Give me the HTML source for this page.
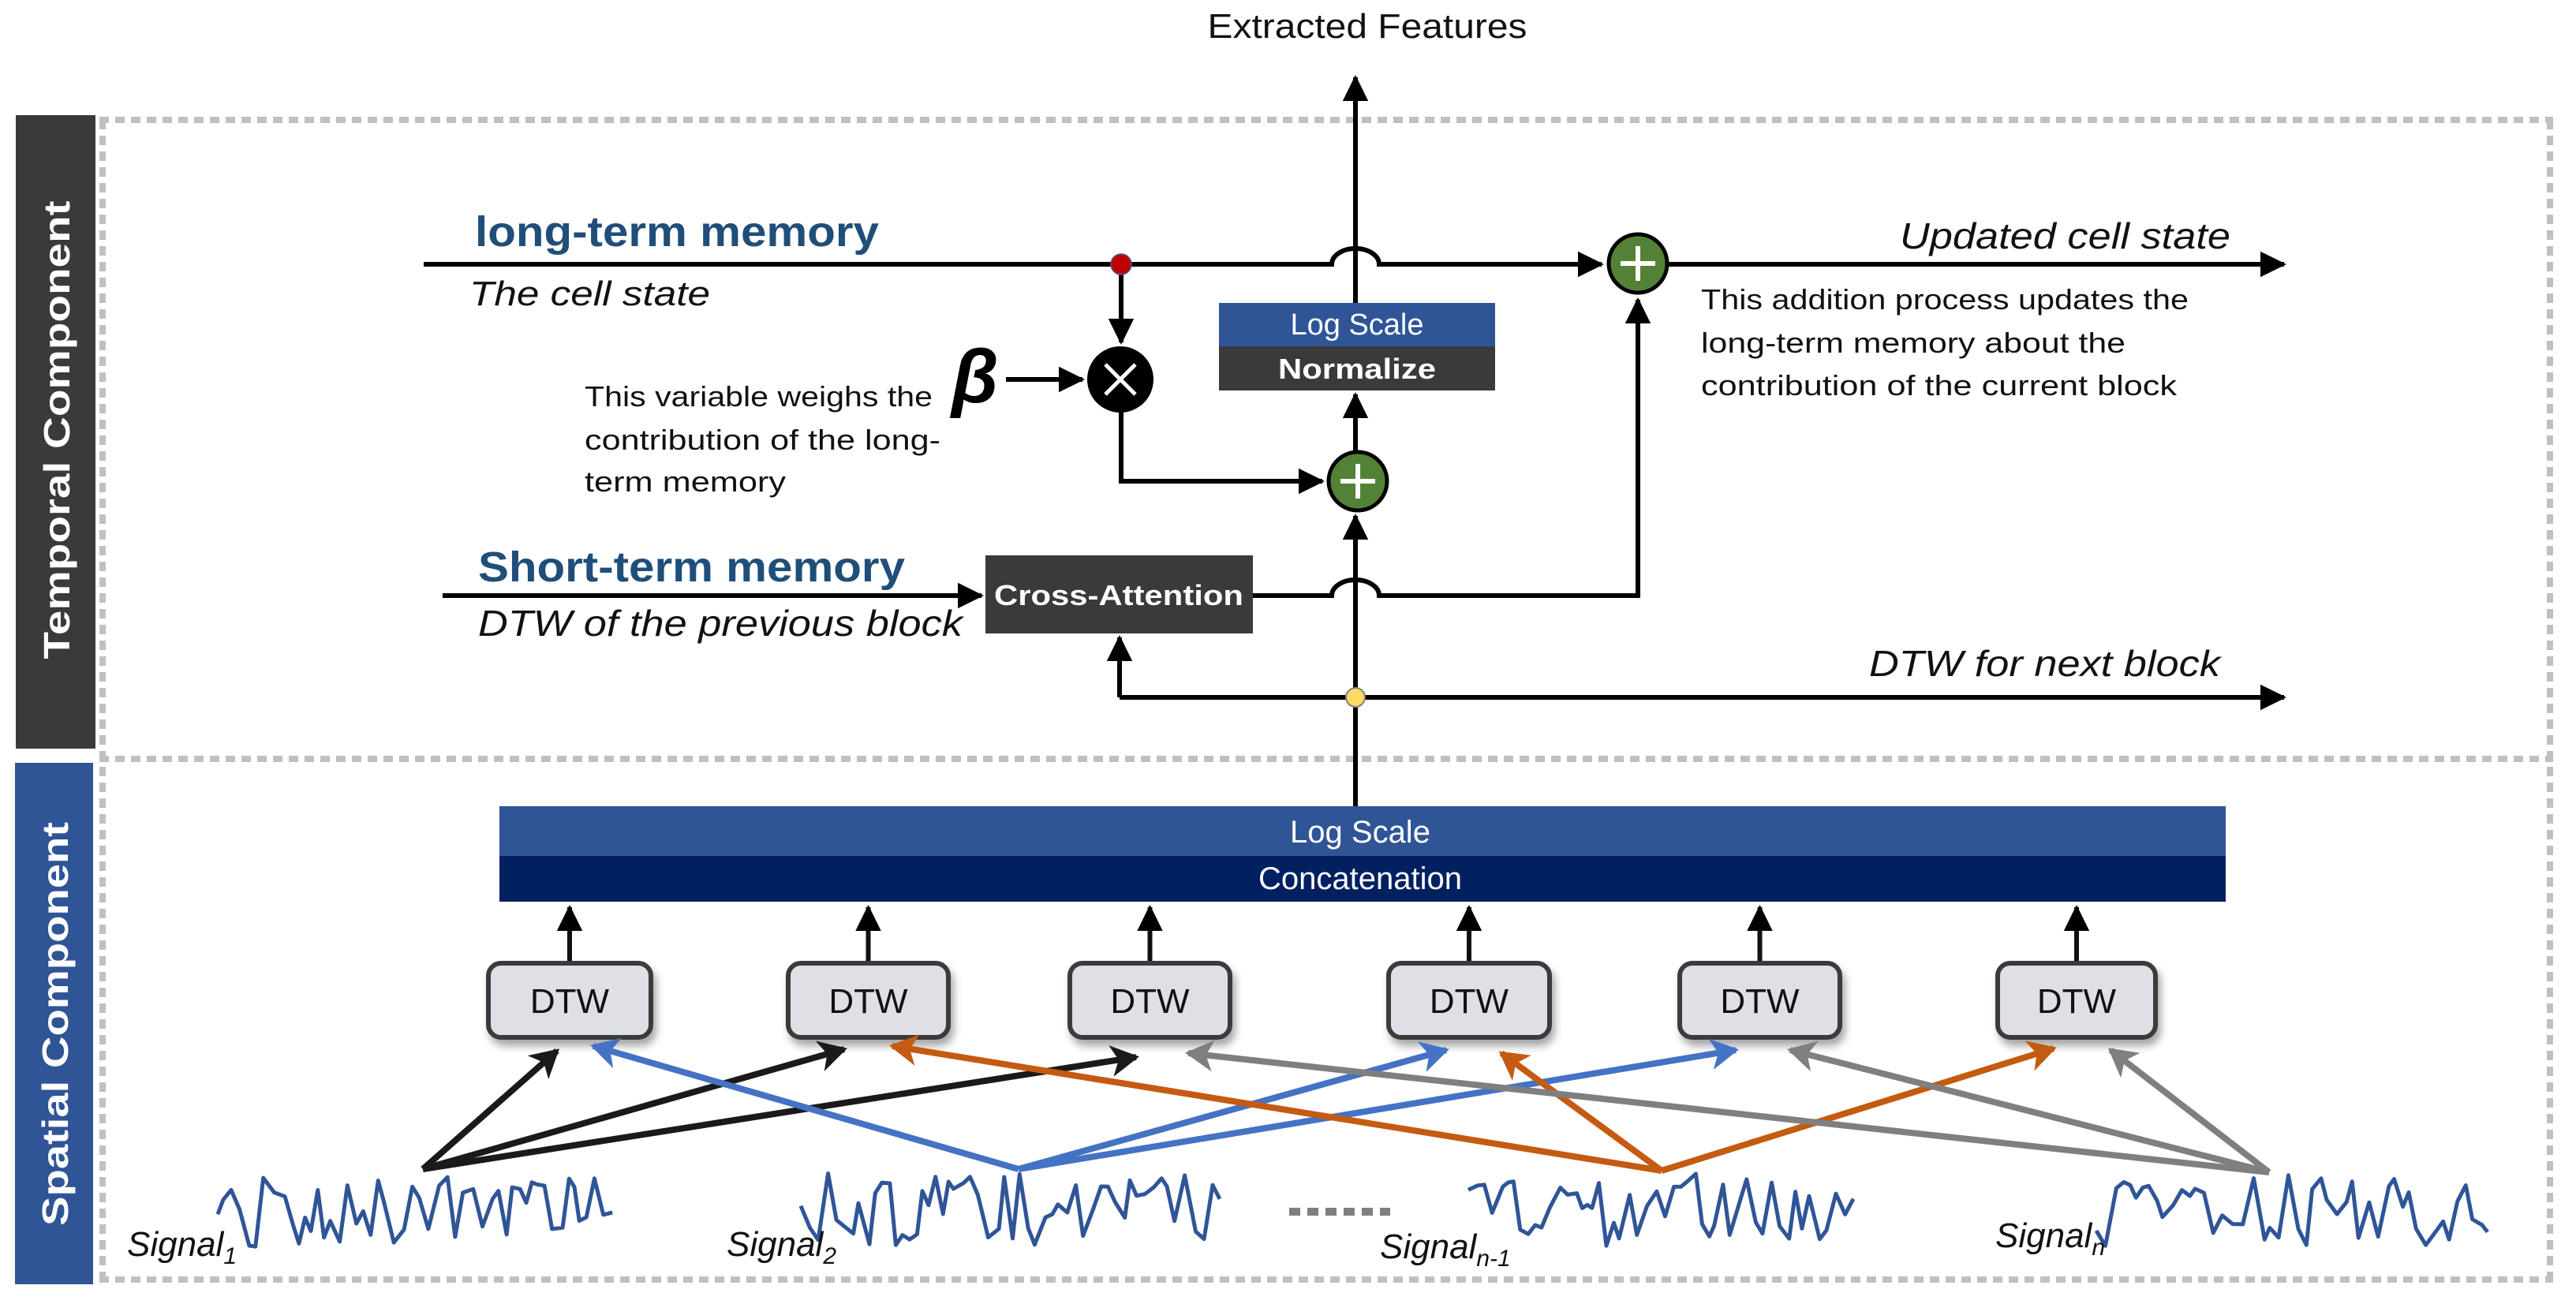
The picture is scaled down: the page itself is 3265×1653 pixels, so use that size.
<!DOCTYPE html>
<html><head><meta charset="utf-8"><style>
html,body{margin:0;padding:0;background:#fff}
svg{display:block}
text{font-family:"Liberation Sans",sans-serif}
</style></head><body>
<svg id="s" width="3265" height="1653" viewBox="0 0 3265 1653" xmlns="http://www.w3.org/2000/svg">
<defs>
<marker id="ak" markerWidth="6" markerHeight="6" refX="5" refY="3" orient="auto" markerUnits="strokeWidth"><path d="M0,0.3 L5.5,3 L0,5.7 Z" fill="#000"/></marker>
<marker id="ab" markerWidth="5" markerHeight="5" refX="4" refY="2.5" orient="auto" markerUnits="strokeWidth"><path d="M0,0 L4.5,2.5 L0,5 L1.2,2.5 Z" fill="#1a1a1a"/></marker>
<marker id="abl" markerWidth="5" markerHeight="5" refX="4" refY="2.5" orient="auto" markerUnits="strokeWidth"><path d="M0,0 L4.5,2.5 L0,5 L1.2,2.5 Z" fill="#4472c4"/></marker>
<marker id="aor" markerWidth="5" markerHeight="5" refX="4" refY="2.5" orient="auto" markerUnits="strokeWidth"><path d="M0,0 L4.5,2.5 L0,5 L1.2,2.5 Z" fill="#c55a11"/></marker>
<marker id="agr" markerWidth="5" markerHeight="5" refX="4" refY="2.5" orient="auto" markerUnits="strokeWidth"><path d="M0,0 L4.5,2.5 L0,5 L1.2,2.5 Z" fill="#7f7f7f"/></marker>
<filter id="sh" x="-20%" y="-20%" width="140%" height="150%"><feDropShadow dx="4" dy="8" stdDeviation="5" flood-color="#000" flood-opacity="0.35"/></filter>
</defs>

<g stroke="#c0c0c0" stroke-width="8" stroke-dasharray="12 8" fill="none">
<line x1="126" y1="152" x2="3236" y2="152"/>
<line x1="130" y1="152" x2="130" y2="1625"/>
<line x1="3232" y1="152" x2="3232" y2="1625"/>
<line x1="126" y1="962" x2="3236" y2="962"/>
<line x1="126" y1="1622" x2="3236" y2="1622"/>
</g>

<rect x="20" y="146" width="101" height="803" fill="#3a3a3a"/>
<rect x="19" y="967" width="99" height="661" fill="#2f5597"/>
<text transform="translate(88,545) rotate(-90)" text-anchor="middle" font-family="DejaVu Sans" font-weight="bold" font-size="46" fill="#fff" textLength="581" lengthAdjust="spacingAndGlyphs">Temporal Component</text>
<text transform="translate(86,1298) rotate(-90)" text-anchor="middle" font-family="DejaVu Sans" font-weight="bold" font-size="46" fill="#fff" textLength="512" lengthAdjust="spacingAndGlyphs">Spatial Component</text>

<text x="1733" y="48" text-anchor="middle" font-size="44" fill="#111" textLength="405" lengthAdjust="spacingAndGlyphs">Extracted Features</text>

<g stroke="#000" stroke-width="6" fill="none">
<path d="M537,335 L1688,335 A30,20 0 0 1 1748,335 L2030,335" marker-end="url(#ak)"/>
<path d="M2114,335 L2895,335" marker-end="url(#ak)"/>
<path d="M1421,335 L1421,434" marker-end="url(#ak)"/>
<path d="M1275,481 L1372,481" marker-end="url(#ak)"/>
<path d="M1421,523 L1421,610 L1676,610" marker-end="url(#ak)"/>
<path d="M1718,572 L1718,500" marker-end="url(#ak)"/>
<path d="M1718,384 L1718,98" marker-end="url(#ak)"/>
<path d="M561,755 L1244,755" marker-end="url(#ak)"/>
<path d="M1588,755 L1688,755 A30,20 0 0 1 1748,755 L2076,755 L2076,380" marker-end="url(#ak)"/>
<path d="M1718,1025 L1718,654" marker-end="url(#ak)"/>
<path d="M1419,884 L1419,808" marker-end="url(#ak)"/>
<path d="M1419,884 L2895,884" marker-end="url(#ak)"/>
</g>
<circle cx="1421" cy="335" r="13" fill="#c00000" stroke="#4a5a8a" stroke-width="1.5"/>
<circle cx="1718" cy="884" r="12" fill="#ffd966" stroke="#7f7f7f" stroke-width="2"/>
<circle cx="1420" cy="481" r="42" fill="#000"/>
<g stroke="#fff" stroke-width="5"><line x1="1401" y1="462" x2="1439" y2="500"/><line x1="1439" y1="462" x2="1401" y2="500"/></g>
<g>
<circle cx="1721" cy="610" r="37" fill="#538135" stroke="#000" stroke-width="5"/>
<g stroke="#fff" stroke-width="6"><line x1="1699" y1="610" x2="1743" y2="610"/><line x1="1721" y1="588" x2="1721" y2="632"/></g>
<circle cx="2076" cy="334" r="37" fill="#538135" stroke="#000" stroke-width="5"/>
<g stroke="#fff" stroke-width="6"><line x1="2054" y1="334" x2="2098" y2="334"/><line x1="2076" y1="312" x2="2076" y2="356"/></g>
</g>
<rect x="1545" y="384" width="350" height="55" fill="#2f5597"/>
<rect x="1545" y="439" width="350" height="56" fill="#3a3a3a"/>
<text x="1720" y="424" text-anchor="middle" font-size="38" fill="#fff">Log Scale</text>
<text x="1720" y="480" text-anchor="middle" font-size="36" font-weight="bold" fill="#fff" textLength="200" lengthAdjust="spacingAndGlyphs">Normalize</text>
<rect x="1249" y="704" width="339" height="99" fill="#3a3a3a"/>
<text x="1418" y="767" text-anchor="middle" font-size="36" font-weight="bold" fill="#fff" textLength="316" lengthAdjust="spacingAndGlyphs">Cross-Attention</text>

<text x="602" y="312" font-size="54" font-weight="bold" fill="#1f4e79" textLength="512" lengthAdjust="spacingAndGlyphs">long-term memory</text>
<text x="595" y="387" font-size="44" font-style="italic" fill="#111" textLength="305" lengthAdjust="spacingAndGlyphs">The cell state</text>
<text x="1206" y="510" font-family="Liberation Serif" font-size="96" font-weight="bold" font-style="italic" fill="#000">β</text>
<g font-size="36" fill="#111">
<text x="741" y="515" textLength="441" lengthAdjust="spacingAndGlyphs">This variable weighs the</text>
<text x="741" y="570" textLength="451" lengthAdjust="spacingAndGlyphs">contribution of the long-</text>
<text x="741" y="623" textLength="255" lengthAdjust="spacingAndGlyphs">term memory</text>
<text x="2156" y="392" textLength="618" lengthAdjust="spacingAndGlyphs">This addition process updates the</text>
<text x="2156" y="447" textLength="538" lengthAdjust="spacingAndGlyphs">long-term memory about the</text>
<text x="2156" y="501" textLength="603" lengthAdjust="spacingAndGlyphs">contribution of the current block</text>
</g>
<text x="606" y="737" font-size="54" font-weight="bold" fill="#1f4e79" textLength="541" lengthAdjust="spacingAndGlyphs">Short-term memory</text>
<text x="606" y="806" font-size="46" font-style="italic" fill="#111" textLength="614" lengthAdjust="spacingAndGlyphs">DTW of the previous block</text>
<text x="2408" y="315" font-size="46" font-style="italic" fill="#111" textLength="419" lengthAdjust="spacingAndGlyphs">Updated cell state</text>
<text x="2369" y="857" font-size="46" font-style="italic" fill="#111" textLength="445" lengthAdjust="spacingAndGlyphs">DTW for next block</text>

<rect x="633" y="1022" width="2188" height="63" fill="#2f5597"/>
<rect x="633" y="1085" width="2188" height="58" fill="#002060"/>
<text x="1724" y="1068" text-anchor="middle" font-size="40" fill="#fff">Log Scale</text>
<text x="1724" y="1127" text-anchor="middle" font-size="40" fill="#fff">Concatenation</text>

<g id="dtw"></g>

<g stroke-width="8" fill="none">
<g stroke="#1a1a1a">
<line x1="536" y1="1482" x2="706" y2="1332" marker-end="url(#ab)"/>
<line x1="536" y1="1482" x2="1070" y2="1330" marker-end="url(#ab)"/>
<line x1="536" y1="1482" x2="1440" y2="1340" marker-end="url(#ab)"/>
</g>
<g stroke="#4472c4">
<line x1="1291" y1="1482" x2="752" y2="1326" marker-end="url(#abl)"/>
<line x1="1291" y1="1482" x2="1833" y2="1331" marker-end="url(#abl)"/>
<line x1="1291" y1="1482" x2="2200" y2="1331" marker-end="url(#abl)"/>
</g>
<g stroke="#c55a11">
<line x1="2106" y1="1484" x2="1131" y2="1326" marker-end="url(#aor)"/>
<line x1="2106" y1="1484" x2="1903" y2="1335" marker-end="url(#aor)"/>
<line x1="2106" y1="1484" x2="2603" y2="1329" marker-end="url(#aor)"/>
</g>
<g stroke="#7f7f7f">
<line x1="2876" y1="1486" x2="1506" y2="1335" marker-end="url(#agr)"/>
<line x1="2876" y1="1486" x2="2269" y2="1331" marker-end="url(#agr)"/>
<line x1="2876" y1="1486" x2="2675" y2="1331" marker-end="url(#agr)"/>
</g>
</g>

<g id="sig" stroke="#2f5597" stroke-width="5" fill="none" stroke-linejoin="round"></g>
<line x1="1634" y1="1536" x2="1762" y2="1536" stroke="#7f7f7f" stroke-width="10" stroke-dasharray="14 9"/>

<g font-size="44" font-style="italic" fill="#111">
<text x="161" y="1592">Signal<tspan font-size="30" dy="10">1</tspan></text>
<text x="921" y="1592">Signal<tspan font-size="30" dy="10">2</tspan></text>
<text x="1749" y="1595">Signal<tspan font-size="30" dy="10">n-1</tspan></text>
<text x="2529" y="1581">Signal<tspan font-size="30" dy="10">n</tspan></text>
</g>
</svg>
<script>
(function(){
var NS="http://www.w3.org/2000/svg";
var g=document.getElementById("dtw");
var boxes=[[616,828],[996,1205],[1353,1562],[1757,1967],[2126,2335],[2529,2735]];
boxes.forEach(function(b){
 var cx=(b[0]+b[1])/2;
 var l=document.createElementNS(NS,"line");
 l.setAttribute("x1",cx);l.setAttribute("y1",1218);l.setAttribute("x2",cx);l.setAttribute("y2",1150);
 l.setAttribute("stroke","#111");l.setAttribute("stroke-width","6");l.setAttribute("marker-end","url(#ak)");
 g.appendChild(l);
 var r=document.createElementNS(NS,"rect");
 r.setAttribute("x",b[0]+3);r.setAttribute("y",1221);r.setAttribute("width",b[1]-b[0]-6);r.setAttribute("height",94);
 r.setAttribute("rx",16);r.setAttribute("fill","#dfe0e5");r.setAttribute("stroke","#3a3a3a");r.setAttribute("stroke-width","6");
 r.setAttribute("filter","url(#sh)");
 g.appendChild(r);
 var t=document.createElementNS(NS,"text");
 t.setAttribute("x",cx);t.setAttribute("y",1284);t.setAttribute("text-anchor","middle");t.setAttribute("font-size","44");t.setAttribute("fill","#111");
 t.textContent="DTW";g.appendChild(t);
});
var seed=7;function rnd(){seed=(seed*9301+49297)%233280;return seed/233280;}
var sg=document.getElementById("sig");
[[276,786,1540],[1015,1546,1535],[1861,2361,1535],[2657,3157,1535]].forEach(function(s){
 var pts=[],x=s[0];
 while(x<=s[1]){var a=(rnd()-0.5)*75;if(rnd()<0.25)a=(a<0?-1:1)*(30+rnd()*18);pts.push(x.toFixed(1)+","+(s[2]+a).toFixed(1));x+=6+rnd()*8;}
 var p=document.createElementNS(NS,"polyline");p.setAttribute("points",pts.join(" "));sg.appendChild(p);
});
})();
</script>
</body></html>
